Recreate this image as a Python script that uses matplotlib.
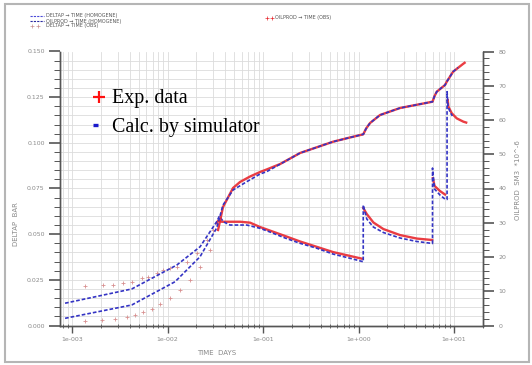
import numpy as np
import matplotlib.pyplot as plt
from matplotlib.ticker import MultipleLocator, LogLocator, FuncFormatter, NullFormatter, FormatStrFormatter
from matplotlib.lines import Line2D
from matplotlib.patches import Rectangle

# ---- simulated DELTAP (left axis, BAR) ----
t_deltap_sim = [8.45e-4, 4.22e-3, 1.25e-2, 2.19e-2, 3.27e-2, 3.49e-2, 3.84e-2, 4.51e-2,
                6.75e-2, 9.31e-2, 0.118, 0.170, 0.244, 0.365, 0.541, 0.815, 1.12,
                1.12, 1.22, 1.43, 1.82, 2.72, 4.07, 5.95,
                5.95, 6.25, 7.13, 8.14, 8.45,
                8.45, 8.65, 9.08, 9.6]
deltap_sim = [0.0122, 0.0200, 0.0331, 0.0431, 0.0568, 0.0599, 0.0568, 0.0550,
              0.0550, 0.0532, 0.0512, 0.0479, 0.0450, 0.0423, 0.0391, 0.0368, 0.0349,
              0.0660, 0.0583, 0.0539, 0.0509, 0.0479, 0.0460, 0.0449,
              0.0862, 0.0747, 0.0714, 0.0690, 0.0690,
              0.1280, 0.1202, 0.1169, 0.1147]

# ---- observed DELTAP ----
t_deltap_obs_early = [1.37e-3, 2.11e-3, 2.69e-3, 3.42e-3, 4.24e-3, 5.37e-3, 6.25e-3, 7.71e-3,
                      8.97e-3, 1.06e-2, 1.25e-2, 1.59e-2, 2.02e-2, 2.57e-2, 2.99e-2]
deltap_obs_early = [0.0216, 0.0222, 0.0222, 0.0233, 0.0240, 0.0260, 0.0267, 0.0287,
                    0.0304, 0.0315, 0.0322, 0.0349, 0.0397, 0.0468, 0.0523]
t_deltap_obs = [3.27e-2, 3.38e-2, 3.70e-2, 4.17e-2, 5.74e-2, 7.31e-2, 9.31e-2, 0.170,
                0.244, 0.541, 1.08, 1.10,
                1.12, 1.22, 1.43, 1.82, 2.72, 4.07, 5.90, 5.92,
                6.0, 6.25, 7.13, 8.05, 8.3,
                8.59, 8.72, 9.46, 10.67, 12.5, 13.4]
deltap_obs = [0.0560, 0.0574, 0.0568, 0.0568, 0.0568, 0.0563, 0.0539, 0.0490,
              0.0460, 0.0402, 0.0366, np.nan,
              0.0643, 0.0610, 0.0564, 0.0528, 0.0495, 0.0476, 0.0468, np.nan,
              0.0807, 0.0764, 0.0736, 0.0717, np.nan,
              0.1234, 0.1198, 0.1162, 0.1134, 0.1116, 0.1111]

# ---- simulated OILPROD (right axis, SM3 *10^-6) ----
t_oil_sim = [8.45e-4, 4.22e-3, 1.20e-2, 2.19e-2, 3.27e-2, 3.81e-2, 4.85e-2, 6.75e-2,
             9.31e-2, 0.109, 0.244, 0.541, 0.815, 1.12, 1.20, 1.32, 1.68, 2.72,
             5.95, 6.25, 6.59, 8.05, 8.39, 9.77, 11.0]
oil_sim = [2.10, 5.99, 12.79, 20.09, 28.47, 35.18, 39.56, 41.99,
           44.23, 44.91, 50.36, 53.66, 54.9, 55.82, 57.5, 59.12, 61.46, 63.50,
           65.34, 67.0, 68.26, 70.22, 71.18, 74.10, 75.3]

# ---- observed OILPROD ----
t_oil_obs_early = [1.37e-3, 2.05e-3, 2.82e-3, 3.74e-3, 4.57e-3, 5.58e-3, 6.83e-3,
                   8.35e-3, 1.06e-2, 1.35e-2, 1.72e-2, 2.19e-2, 2.79e-2]
oil_obs_early = [1.31, 1.61, 2.04, 2.48, 3.07, 3.94, 4.96, 6.28, 8.03, 10.37, 13.28, 17.08, 22.04]
t_oil_obs = [3.38e-2, 3.81e-2, 4.85e-2, 5.74e-2, 7.31e-2, 9.31e-2, 0.109, 0.151, 0.244,
             0.541, 0.815, 1.12, 1.20, 1.32, 1.68, 2.72, 5.95, 6.25, 6.59, 8.05, 8.39,
             9.77, 12.4, 12.9]
oil_obs = [27.88, 34.6, 40.15, 41.9, 43.5, 44.82, 45.55, 47.15, 50.36,
           53.66, 54.9, 55.82, 57.5, 59.12, 61.46, 63.50, 65.34, 67.0, 68.26, 70.22, 71.18,
           74.10, 76.35, 76.7]

RED = '#e8282e'
BLUE = '#3434c4'
GREY = '#8a8a8a'

fig = plt.figure(figsize=(5.32, 3.65), dpi=100)
W, H = 532, 365
ax = fig.add_axes([60 / W, 39.5 / H, 423 / W, 274 / H])
ax2 = ax.twinx()

ax.set_xscale('log')
ax.set_xlim(7.48e-4, 20.1)
ax.set_ylim(0, 0.150)
ax2.set_ylim(0, 80)

# observed: sparse early crosses, dense later (looks like a thick line)
ax.plot(t_deltap_obs_early, deltap_obs_early, ls='none', marker='+', ms=3, mew=0.6, color='#d89090')
ax.plot(t_deltap_obs, deltap_obs, color=RED, lw=1.7, alpha=0.9)
ax2.plot(t_oil_obs_early, oil_obs_early, ls='none', marker='+', ms=3, mew=0.6, color='#d89090')
ax2.plot(t_oil_obs, oil_obs, color=RED, lw=1.7, alpha=0.9)

# simulated: blue dashed
ax.plot(t_deltap_sim, deltap_sim, color=BLUE, lw=1.2, ls=(0, (2.2, 1.2)))
ax2.plot(t_oil_sim, oil_sim, color=BLUE, lw=1.2, ls=(0, (2.2, 1.2)))

# grid
ax.xaxis.set_major_locator(LogLocator(base=10, numticks=10))
ax.xaxis.set_minor_locator(LogLocator(base=10, subs=np.arange(2, 10), numticks=20))
ax.xaxis.set_minor_formatter(NullFormatter())
ax.xaxis.set_major_formatter(FuncFormatter(lambda v, p: '1e%+04d' % round(np.log10(v))))
ax.yaxis.set_major_locator(MultipleLocator(0.025))
ax.yaxis.set_minor_locator(MultipleLocator(0.005))
ax.yaxis.set_major_formatter(FormatStrFormatter('%.3f'))
ax2.yaxis.set_major_locator(MultipleLocator(10))
ax2.yaxis.set_minor_locator(MultipleLocator(2))
ax2.yaxis.set_major_formatter(FormatStrFormatter('%d'))
ax.grid(which='both', color='#dcdcdc', lw=0.6)
ax.set_axisbelow(True)

for a in (ax, ax2):
    a.spines['top'].set_visible(False)
    for s in ('left', 'right', 'bottom'):
        a.spines[s].set_color('#555555')
        a.spines[s].set_linewidth(1.0)

ax.tick_params(axis='y', which='major', direction='out', length=8, width=1.2,
               color='#555555', labelsize=4.5, labelcolor=GREY, pad=3)
ax.tick_params(axis='y', which='minor', direction='out', length=4, width=0.7, color='#555555')
ax2.tick_params(axis='y', which='major', direction='out', length=8, width=1.2,
                color='#555555', labelsize=4.5, labelcolor=GREY, pad=3)
ax2.tick_params(axis='y', which='minor', direction='out', length=4, width=0.7, color='#555555')
ax.tick_params(axis='x', which='major', direction='out', length=5, width=1.0,
               color='#555555', labelsize=4.5, labelcolor=GREY, pad=3)
ax.tick_params(axis='x', which='minor', direction='inout', length=3, width=0.6, color='#555555')

# axis titles
fig.text(16 / W, 1 - 224 / H, 'DELTAP  BAR', rotation=90, ha='center', va='center',
         fontsize=5, color=GREY)
fig.text(217 / W, 1 - 353 / H, 'TIME  DAYS', ha='center', va='center', fontsize=5, color=GREY)
fig.text(518 / W, 1 - 180 / H, 'OILPROD  SM3  *10^-6', rotation=90, ha='center', va='center',
         fontsize=5, color=GREY)

# header legend
leg_rows = [('DELTAP \u2192 TIME (HOMOGENE)', 16, 'dash', '#4a4ad8'),
            ('OILPROD \u2192 TIME (HOMOGENE)', 21, 'dash', '#2a2aa0'),
            ('DELTAP \u2192 TIME (OBS)', 26, 'cross', '#c89090')]
for label, yy, kind, col in leg_rows:
    yf = 1 - yy / H
    if kind == 'dash':
        fig.add_artist(Line2D([30 / W, 44 / W], [yf, yf], transform=fig.transFigure,
                              color=col, lw=0.8, ls=(0, (2, 1))))
    else:
        fig.add_artist(Line2D([32 / W, 38 / W], [yf, yf], transform=fig.transFigure,
                              color=col, ls='none', marker='+', ms=2.5, mew=0.5))
    fig.text(46 / W, yf, label, fontsize=3.5, color='#555555', va='center')
yf = 1 - 18 / H
fig.add_artist(Line2D([267 / W, 272 / W], [yf, yf], transform=fig.transFigure,
                      color=RED, ls='none', marker='+', ms=2.5, mew=0.5))
fig.text(275 / W, yf, 'OILPROD \u2192 TIME (OBS)', fontsize=3.5, color='#555555', va='center')

# overlay annotation
serif = ['Liberation Serif', 'DejaVu Serif']
fig.add_artist(Line2D([99 / W], [1 - 96.7 / H], transform=fig.transFigure, ls='none',
                      marker='+', ms=9, mew=1.6, color='#ff1010'))
fig.text(112 / W, 1 - 102.7 / H, 'Exp. data', color='black', fontsize=14.4, family=serif,
         va='baseline')
fig.add_artist(Line2D([93 / W, 97.5 / W], [1 - 125 / H] * 2, transform=fig.transFigure,
                      color='#1a1acc', lw=2.4, solid_capstyle='butt'))
fig.text(112 / W, 1 - 131.7 / H, 'Calc. by simulator', color='black', fontsize=14.4,
         family=serif, va='baseline')

# outer frame
fig.add_artist(Rectangle((5 / W, 3 / H), 524 / W, 358 / H, transform=fig.transFigure,
                         fill=False, edgecolor='#b5b5b5', lw=1.5))

fig.savefig('out.png', dpi=100)
